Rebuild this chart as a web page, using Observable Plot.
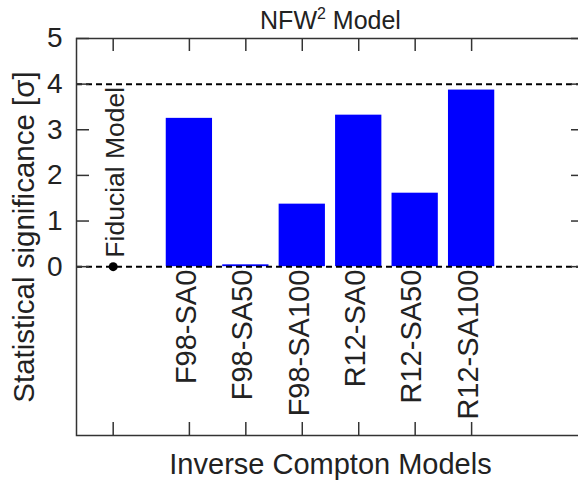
<!DOCTYPE html>
<html>
<head>
<meta charset="utf-8">
<script src="https://cdn.jsdelivr.net/npm/d3@7"></script>
<script src="https://cdn.jsdelivr.net/npm/@observablehq/plot@0.6"></script>
<style>
  html, body { margin: 0; padding: 0; background: #fff; overflow: hidden; }
  #chart svg { display: block; max-width: none !important; height: 481px !important; }
</style>
</head>
<body>
<div id="chart"></div>
<script>
// ---- data ----
const categories = ["F98-SA0", "F98-SA50", "F98-SA100", "R12-SA0", "R12-SA50", "R12-SA100"];
const significance = [3.25, 0.04, 1.37, 3.32, 1.61, 3.87];
const fiducialLabel = "Fiducial Model";
const fiducialValue = 0;
const yTicks = [0, 1, 2, 3, 4, 5];
const thresholds = [0, 4];
const titleMain = "NFW";
const titleSup = "2";
const titleRest = " Model";
const xLabel = "Inverse Compton Models";
const yLabel = "Statistical significance [σ]";

// ---- layout ----
const W = 590, H = 481;
const mL = 76, mR = 6, mT = 38, mB = 46;
const innerW = W - mL - mR, innerH = H - mT - mB;
const tickLen = 13;
const fidPos = -0.35;
const halfBar = 0.41;

const bars = categories.map((c, i) => ({cat: c, pos: i + 1, v: significance[i]}));
const xTickPos = [fidPos, ...bars.map(d => d.pos)];
const fid = [{pos: fidPos, v: fiducialValue, label: fiducialLabel}];

const font = "Liberation Sans, Arial, sans-serif";
const ink = "#222";

const chart = Plot.plot({
  width: W, height: H,
  marginLeft: mL, marginRight: mR, marginTop: mT, marginBottom: mB,
  style: {fontFamily: font, background: "#fff", color: ink, overflow: "visible"},
  x: {type: "linear", domain: [-1, 8], axis: null},
  y: {type: "linear", domain: [-3.7, 5], axis: null},
  marks: [
    Plot.rectY(bars, {x1: d => d.pos - halfBar, x2: d => d.pos + halfBar, y1: 0, y2: "v", fill: "#0000ff"}),
    Plot.ruleY(thresholds, {stroke: "#000", strokeWidth: 2, strokeDasharray: "6,4"}),
    Plot.dot(fid, {x: "pos", y: "v", r: 4.5, fill: "#000", stroke: "none"}),
    Plot.text(fid, {x: "pos", y: "v", text: "label", rotate: -90, textAnchor: "start", dy: -9, dx: 2, fontSize: 26.5, fill: ink}),
    Plot.text(bars, {x: "pos", y: 0, text: "cat", rotate: -90, textAnchor: "end", dy: 3, dx: -3, fontSize: 29, fill: ink}),
    // ticks
    Plot.tickX(xTickPos, {x: d => d, insetBottom: innerH - tickLen, stroke: "#333", strokeWidth: 1.5}),
    Plot.tickX(xTickPos, {x: d => d, insetTop: innerH - tickLen, stroke: "#333", strokeWidth: 1.5}),
    Plot.tickY(yTicks, {y: d => d, insetRight: innerW - tickLen, stroke: "#333", strokeWidth: 1.5}),
    Plot.tickY(yTicks, {y: d => d, insetLeft: innerW - tickLen, stroke: "#333", strokeWidth: 1.5}),
    Plot.axisY(yTicks, {tickSize: 0, tickPadding: 14, fontSize: 28, fill: ink, label: null}),
    Plot.frame({stroke: "#333", strokeWidth: 1.5}),
    Plot.text([titleMain + titleSup + titleRest], {frameAnchor: "top", lineAnchor: "middle", dy: -18, fontSize: 25, fill: ink, className: "chart-title"}),
    Plot.text([xLabel], {frameAnchor: "bottom", lineAnchor: "middle", dy: 29, fontSize: 29, fill: ink}),
    Plot.text([yLabel], {frameAnchor: "left", textAnchor: "middle", lineAnchor: "middle", dx: -52, rotate: -90, fontSize: 29.5, fill: ink})
  ]
});
// render the superscript in the title as a real superscript
const t = d3.select(chart).select(".chart-title text");
if (!t.empty()) {
  t.text(null);
  t.append("tspan").text(titleMain);
  t.append("tspan").attr("dy", "-10px").attr("font-size", "16px").text(titleSup);
  t.append("tspan").attr("dy", "10px").text(titleRest);
}
document.getElementById("chart").appendChild(chart);
</script>
</body>
</html>
